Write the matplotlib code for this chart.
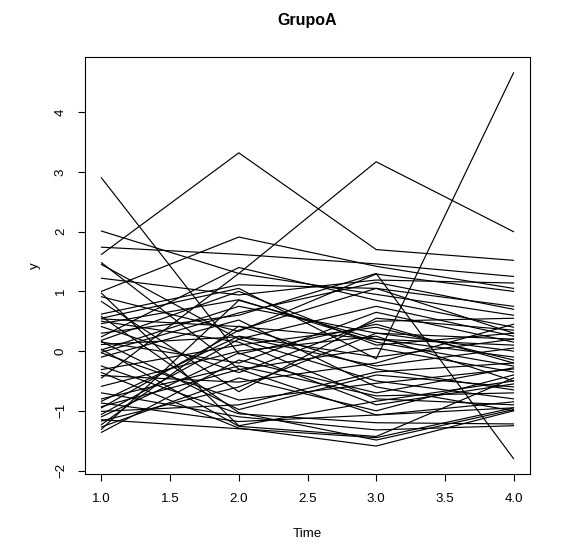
import numpy as np
import matplotlib.pyplot as plt

plt.rcParams['font.family'] = ['Liberation Sans', 'DejaVu Sans']

# measurement times
time = [1, 2, 3, 4]

# one row per subject, values at time 1..4
t1 = [1.62, 2.90, -0.45, 0.55, 0.30, 1.00, 2.01, 1.74, 1.48, 1.45,
      1.22, 0.97, 0.91, 0.83, 0.62, 0.58, 0.54, 0.46, 0.41, 0.24,
      0.16, 0.11, 0.02, -0.03, -0.10, 0.15, 0.18, 0.03, -0.02, -0.31,
      -0.36, -0.41, -0.59, -0.70, -0.80, -0.84, -0.87, -0.93, -0.95, -1.01,
      -1.06, -1.10, -1.15, -1.17, -1.23, -1.27, -1.31, -1.36, 0.50, -0.25]
t2 = [3.32, -0.05, 1.30, 1.05, 0.60, 1.91, 1.30, 1.62, -0.30, 0.20,
      0.94, -1.25, 0.33, -0.68, 1.11, -1.03, 0.41, 0.86, -0.36, 1.40,
      -0.98, 0.24, 0.75, -0.82, 0.52, -0.20, 1.00, -1.26, 0.64, 0.10,
      -1.29, -0.52, 0.00, -1.10, -0.25, 0.25, -1.18, -0.31, 0.35, -0.90,
      0.20, -0.03, -1.30, -0.60, 0.42, -0.45, 0.85, -0.15, 0.15, -1.05]
t3 = [1.70, 0.45, 3.17, -0.13, 1.30, 1.42, 0.95, 1.46, -1.07, 0.75,
      1.19, -0.84, 1.29, 0.55, 1.05, -1.49, 0.20, 0.15, 0.50, 0.85,
      -0.40, -0.25, 0.30, -0.54, -0.60, 0.65, 0.10, -1.43, 1.15, 0.40,
      -1.59, -0.20, 0.25, -1.32, -0.75, -0.10, -1.07, 0.05, 1.05, -0.35,
      -0.50, -0.90, -1.45, 0.30, -0.30, -1.00, 0.20, -0.70, -0.80, -1.20]
t4 = [1.52, -0.20, 2.00, 4.66, -1.80, 1.05, 0.60, 1.25, -0.95, 0.25,
      1.14, -0.50, 1.00, 0.35, 0.75, -0.98, 0.10, -0.25, 0.55, 0.40,
      -0.60, 0.05, 0.20, -0.30, -1.00, 0.15, 0.30, -0.45, 0.70, -0.15,
      -1.00, 0.45, -0.50, -1.25, -0.70, 0.20, -0.85, -0.35, 0.30, -0.20,
      -0.80, -0.55, -0.95, 0.00, -0.65, -0.40, -0.10, -0.28, -0.90, -1.22]

y = np.array([t1, t2, t3, t4])

fig = plt.figure(figsize=(5.63, 5.55), dpi=100)
ax = fig.add_axes([85 / 563, 81 / 555, 445 / 563, 416.6 / 555])

ax.plot(time, y, color='black', lw=0.85)

# R style 4% padding
ymin, ymax = y.min(), y.max()
pad = 0.04 * (ymax - ymin)
ax.set_xlim(1 - 0.12, 4 + 0.12)
ax.set_ylim(ymin - pad, ymax + pad)

ax.set_xticks([1.0, 1.5, 2.0, 2.5, 3.0, 3.5, 4.0])
ax.set_xticklabels(['1.0', '1.5', '2.0', '2.5', '3.0', '3.5', '4.0'])
ax.set_yticks([-2, -1, 0, 1, 2, 3, 4])
ax.set_yticklabels(['\u22122', '\u22121', '0', '1', '2', '3', '4'], rotation=90, va='center')
ax.tick_params(direction='out', length=5, width=0.8, labelsize=9.6)
ax.tick_params(axis='x', pad=9)
ax.tick_params(axis='y', pad=8)
for s in ax.spines.values():
    s.set_linewidth(0.8)

fig.text((85 + 445 / 2) / 563, 1 - 21 / 555, 'GrupoA', ha='center', va='center',
         fontsize=11.5, fontweight='bold')
fig.text((85 + 445 / 2) / 563, 1 - 534 / 555, 'Time', ha='center', va='center', fontsize=9.6)
fig.text(35 / 563, (81 + 416.6 / 2) / 555, 'y', ha='center', va='center', rotation=90, fontsize=9.6)

fig.savefig('out.png', dpi=100)
